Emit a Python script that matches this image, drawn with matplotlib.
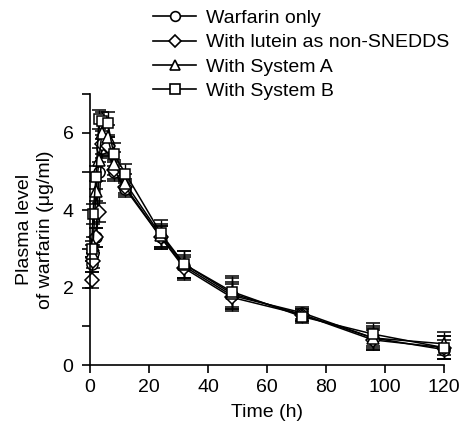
import matplotlib
matplotlib.use("Agg")
import matplotlib.pyplot as plt
from matplotlib.ticker import MultipleLocator
from matplotlib.lines import Line2D

plt.rcParams['font.family'] = ['Liberation Sans', 'DejaVu Sans']

times = [0.5, 1, 2, 3, 4, 6, 8, 12, 24, 32, 48, 72, 96, 120]
series_names = ["Warfarin only", "With lutein as non-SNEDDS", "With System A", "With System B"]
warfarin_only = [2.6, 2.9, 3.3, 5.0, 5.6, 5.65, 5.0, 4.55, 3.3, 2.55, 1.8, 1.35, 0.7, 0.4]
lutein = [2.2, 2.7, 3.3, 3.95, 5.7, 5.65, 5.05, 4.6, 3.3, 2.5, 1.75, 1.3, 0.65, 0.45]
system_a = [2.9, 3.1, 4.5, 5.3, 6.0, 5.9, 5.2, 4.7, 3.35, 2.6, 1.85, 1.3, 0.7, 0.55]
system_b = [3.0, 3.9, 4.85, 6.35, 6.3, 6.25, 5.45, 4.95, 3.4, 2.6, 1.9, 1.25, 0.8, 0.45]
err_w = [0.2, 0.2, 0.25, 0.25, 0.25, 0.25, 0.25, 0.2, 0.3, 0.3, 0.35, 0.15, 0.25, 0.25]
err_l = [0.2, 0.2, 0.25, 0.25, 0.25, 0.25, 0.25, 0.2, 0.3, 0.3, 0.35, 0.15, 0.25, 0.3]
err_a = [0.2, 0.2, 0.25, 0.3, 0.3, 0.3, 0.3, 0.25, 0.3, 0.35, 0.4, 0.15, 0.3, 0.3]
err_b = [0.2, 0.25, 0.3, 0.25, 0.25, 0.3, 0.3, 0.25, 0.35, 0.35, 0.4, 0.15, 0.3, 0.3]

values = [warfarin_only, lutein, system_a, system_b]
errors = [err_w, err_l, err_a, err_b]
markers = ['o', 'D', '^', 's']
msizes = [8, 7, 8.5, 7.5]

fig = plt.figure(figsize=(4.62, 4.30), dpi=100)
ax = fig.add_axes([0.195, 0.151, 0.766, 0.630])

for name, v, e, m, ms in zip(series_names, values, errors, markers, msizes):
    ax.errorbar(times, v, yerr=e, color='black', lw=1.1, marker=m, ms=ms,
                mfc='white', mec='black', mew=1.1, capsize=5, elinewidth=1.0,
                capthick=1.0, clip_on=False, label=name)

ax.set_xlim(0, 120)
ax.set_ylim(0, 7)
ax.spines['top'].set_visible(False)
ax.spines['right'].set_visible(False)
ax.spines['left'].set_linewidth(1.2)
ax.spines['bottom'].set_linewidth(1.2)
ax.xaxis.set_major_locator(MultipleLocator(20))
ax.yaxis.set_major_locator(MultipleLocator(2))
ax.yaxis.set_minor_locator(MultipleLocator(1))
ax.tick_params(which='both', direction='out', length=6, width=1.2, labelsize=14)
ax.tick_params(axis='x', pad=4)
ax.tick_params(axis='y', which='both', pad=6)
ax.set_xlabel("Time (h)", fontsize=14, labelpad=6)
ax.set_ylabel("Plasma level\nof warfarin (μg/ml)", fontsize=14, labelpad=6,
              linespacing=1.3)

leg_handles = [Line2D([0], [0], color='black', lw=1.2, marker=m, ms=ms - 1, mfc='white',
                      mec='black', mew=1.2) for m, ms in zip(markers, msizes)]
fig.legend(leg_handles, series_names, loc='upper left', bbox_to_anchor=(0.315, 0.996),
           frameon=False, fontsize=14, handlelength=2.2, handletextpad=0.5,
           labelspacing=0.34, borderaxespad=0)

fig.savefig("out.png", dpi=100)
